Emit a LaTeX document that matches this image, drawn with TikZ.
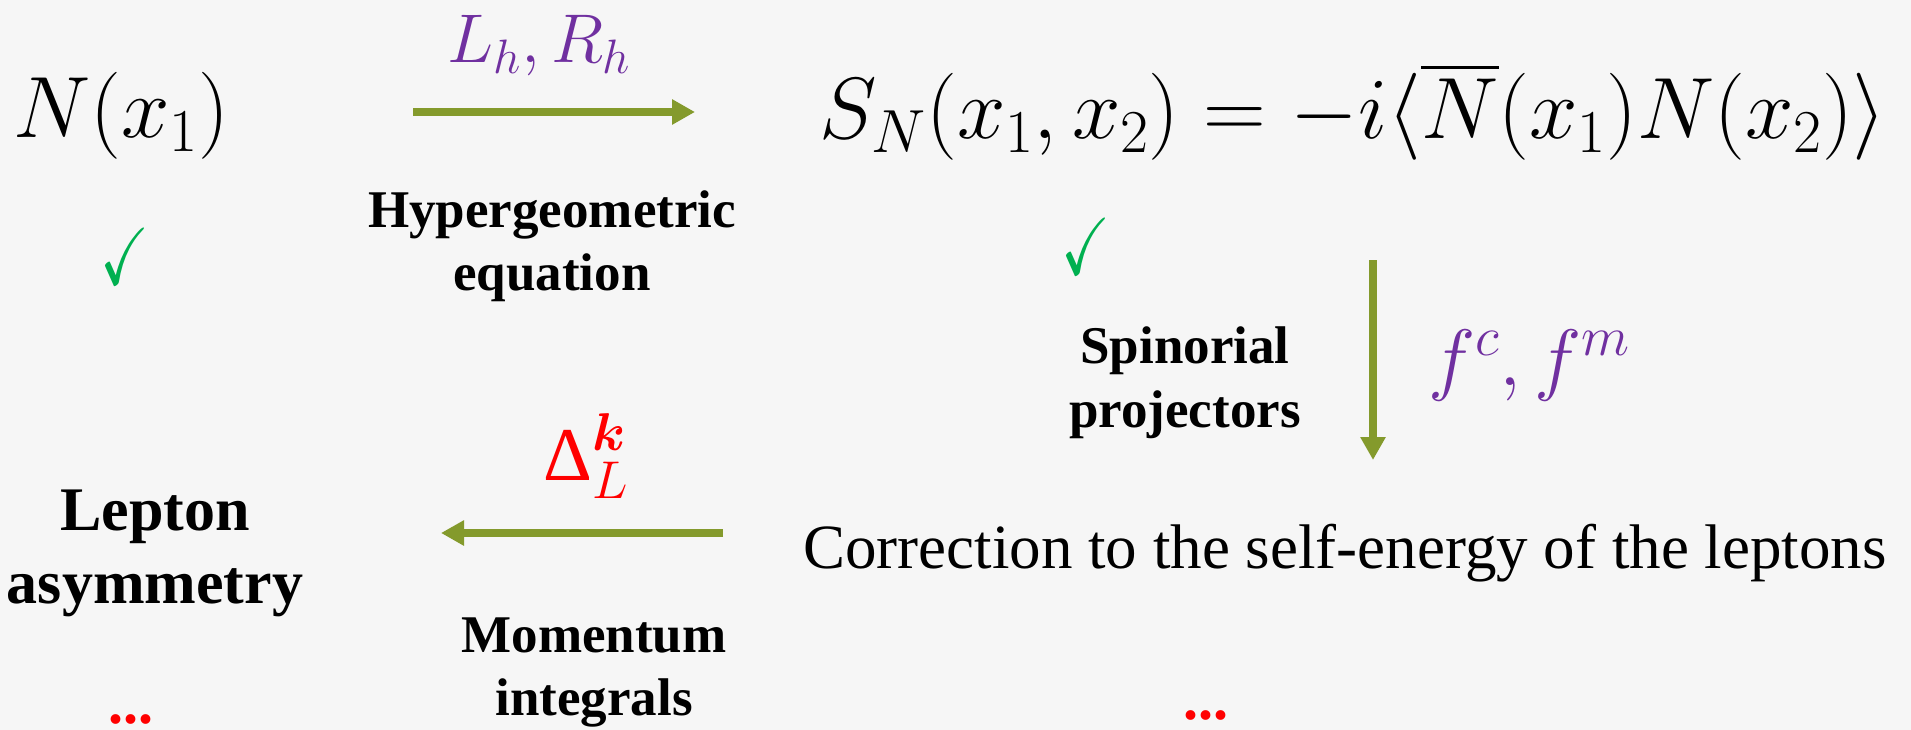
\RequirePackage{fix-cm}
\documentclass[tikz,border=0pt]{standalone}
\usepackage{amsmath,amssymb,bm}
\usepackage{fontspec}
\setmainfont{Liberation Serif}
\usetikzlibrary{arrows.meta}
\definecolor{arrowgreen}{RGB}{132,154,44}
\definecolor{labpurple}{RGB}{112,48,160}
\definecolor{chkgreen}{RGB}{0,176,80}
\definecolor{bggray}{RGB}{246,246,246}
\begin{document}
\begin{tikzpicture}[x=1pt,y=-1pt,
  mathbig/.style={inner sep=0pt, anchor=base, font=\fontsize{87}{90}\selectfont},
  lab/.style={inner sep=0pt, anchor=base, align=center, font=\fontsize{53}{63}\selectfont\bfseries},
  chk/.style={inner sep=0pt, text=chkgreen},
  dots/.style={inner sep=0pt, anchor=base, text depth=0pt, text=red, font=\fontsize{60}{64}\selectfont\bfseries},
  flow/.style={draw=arrowgreen, line width=8pt, -{Triangle[length=23pt,width=24pt]}}
]
\fill[bggray] (0,0) rectangle (1911,730);
\useasboundingbox (0,0) rectangle (1911,730);

% main items
\node[mathbig] (n1) at (121,138) {$N(x_1)$};
\node[mathbig] (sn) at (1353,139) {$S_N(x_1,x_2) = -i\langle \overline{N}(x_1)N(x_2)\rangle$};
\node[inner sep=0pt, anchor=base, font=\fontsize{63}{66}\selectfont] (corr) at (1345,568) {Correction to the self-energy of the leptons};
\node[inner sep=0pt, anchor=base, align=center, font=\fontsize{62}{73}\selectfont\bfseries] (lep) at (155,603) {Lepton\\asymmetry};

% checks and dots
\node[chk] (c1) at (125,256) {\resizebox{49pt}{56pt}{$\checkmark$}};
\node[chk] (c2) at (1086,246) {\resizebox{49pt}{56pt}{$\checkmark$}};
\node[dots] (d1) at (131,723) {...};
\node[dots] (d2) at (1206,719) {...};

% arrows
\coordinate (a1s) at (413,112);
\coordinate (a1e) at (695,112);
\draw[flow] (a1s) -- (a1e);
\coordinate (a2s) at (1373,260);
\coordinate (a2e) at (1373,460);
\draw[flow] (a2s) -- (a2e);
\coordinate (a3s) at (723,533);
\coordinate (a3e) at (441,533);
\draw[flow] (a3s) -- (a3e);

% arrow labels
\node[inner sep=0pt, anchor=base, text=labpurple, font=\fontsize{69}{72}\selectfont] (lr) at (539,63) {$L_h, R_h$};
\node[lab] (hyp) at (552,290) {Hypergeometric\\equation};
\node[inner sep=0pt, anchor=base west, text=labpurple, font=\fontsize{80}{84}\selectfont] (fcm) at (1428,385) {$f^c, f^m$};
\node[lab, font=\fontsize{53}{64}\selectfont\bfseries] (spin) at (1185,427) {Spinorial\\projectors};
\node[inner sep=0pt, anchor=base west, text=red, font=\fontsize{76}{80}\selectfont] (dl) at (543,480) {$\text{Δ}_L^{\bm{k}}$};
\node[lab] (mom) at (594,715) {Momentum\\integrals};
\end{tikzpicture}
\end{document}
